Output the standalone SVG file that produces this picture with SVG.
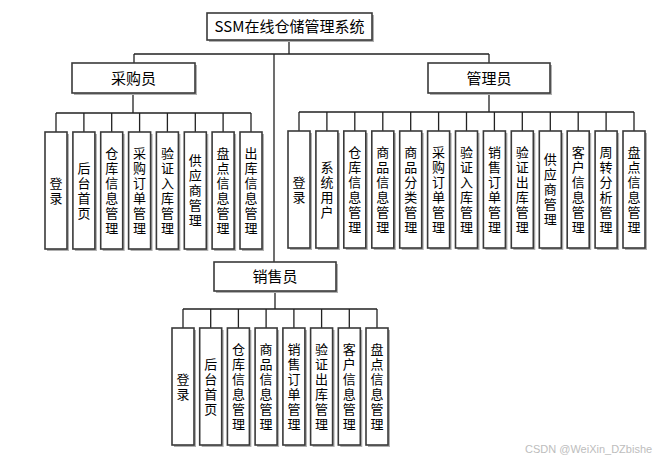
<svg xmlns="http://www.w3.org/2000/svg" width="669" height="463" viewBox="0 0 669 463">
<defs>
<style>
.box{fill:#fff;stroke:#3a3a3a;stroke-width:1.6}
.sh{fill:#b0b0b0}
.ln{stroke:#222;stroke-width:1.3;fill:none}
.t{font-family:"Noto Sans CJK SC","Microsoft YaHei",sans-serif;font-size:13px;fill:#000;text-anchor:middle;writing-mode:vertical-rl;letter-spacing:2px}
.r{font-family:"Noto Sans CJK SC","Microsoft YaHei",sans-serif;font-size:15px;fill:#000;text-anchor:middle}
.wm{font-family:"Liberation Sans",Arial,sans-serif;font-size:11px;fill:#bdbdbd}
</style>
</defs>
<rect width="669" height="463" fill="#fff"/>
<g id="connectors">
<path class="ln" d="M289 40V54M134 54H489M134 54V63M489 54V63M274 54V262"/>
<path class="ln" d="M133 93V113M56 113H251M56 113V132M83.9 113V132M111.7 113V132M139.6 113V132M167.4 113V132M195.3 113V132M223.1 113V132M251 113V132"/>
<path class="ln" d="M489 93V112M299 112H634M299 112V131M326.9 112V131M354.8 112V131M382.8 112V131M410.7 112V131M438.6 112V131M466.5 112V131M494.4 112V131M522.3 112V131M550.3 112V131M578.2 112V131M606.1 112V131M634 112V131"/>
<path class="ln" d="M275 291V309M183 309H377M183 309V328M210.7 309V328M238.4 309V328M266.1 309V328M293.9 309V328M321.6 309V328M349.3 309V328M377 309V328"/>
</g>
<g id="root"><rect class="sh" x="209" y="15" width="165" height="27"/><rect class="box" x="207" y="13" width="165" height="27"/><text class="r" x="289.5" y="32">SSM在线仓储管理系统</text></g>
<g id="buyer"><rect class="sh" x="74" y="65" width="123" height="30"/><rect class="box" x="72" y="63" width="123" height="30"/><text class="r" x="133.5" y="83.5">采购员</text></g>
<g id="admin"><rect class="sh" x="430" y="65" width="122" height="30"/><rect class="box" x="428" y="63" width="122" height="30"/><text class="r" x="489" y="83.5">管理员</text></g>
<g id="seller"><rect class="sh" x="216" y="264" width="122" height="29"/><rect class="box" x="214" y="262" width="122" height="29"/><text class="r" x="275" y="282">销售员</text></g>

<g id="b1"><rect class="sh" x="47" y="134" width="22" height="117"/><rect class="box" x="45" y="132" width="22" height="117"/><text class="t" x="56" y="191.5">登录</text></g>
<g id="b2"><rect class="sh" x="74.9" y="134" width="22" height="117"/><rect class="box" x="72.9" y="132" width="22" height="117"/><text class="t" x="83.9" y="191.5">后台首页</text></g>
<g id="b3"><rect class="sh" x="102.7" y="134" width="22" height="117"/><rect class="box" x="100.7" y="132" width="22" height="117"/><text class="t" x="111.7" y="191.5">仓库信息管理</text></g>
<g id="b4"><rect class="sh" x="130.6" y="134" width="22" height="117"/><rect class="box" x="128.6" y="132" width="22" height="117"/><text class="t" x="139.6" y="191.5">采购订单管理</text></g>
<g id="b5"><rect class="sh" x="158.4" y="134" width="22" height="117"/><rect class="box" x="156.4" y="132" width="22" height="117"/><text class="t" x="167.4" y="191.5">验证入库管理</text></g>
<g id="b6"><rect class="sh" x="186.3" y="134" width="22" height="117"/><rect class="box" x="184.3" y="132" width="22" height="117"/><text class="t" x="195.3" y="191.5">供应商管理</text></g>
<g id="b7"><rect class="sh" x="214.1" y="134" width="22" height="117"/><rect class="box" x="212.1" y="132" width="22" height="117"/><text class="t" x="223.1" y="191.5">盘点信息管理</text></g>
<g id="b8"><rect class="sh" x="242" y="134" width="22" height="117"/><rect class="box" x="240" y="132" width="22" height="117"/><text class="t" x="251" y="191.5">出库信息管理</text></g>

<g id="a1"><rect class="sh" x="290" y="133" width="22" height="117"/><rect class="box" x="288" y="131" width="22" height="117"/><text class="t" x="299" y="190.5">登录</text></g>
<g id="a2"><rect class="sh" x="317.9" y="133" width="22" height="117"/><rect class="box" x="315.9" y="131" width="22" height="117"/><text class="t" x="326.9" y="190.5">系统用户</text></g>
<g id="a3"><rect class="sh" x="345.8" y="133" width="22" height="117"/><rect class="box" x="343.8" y="131" width="22" height="117"/><text class="t" x="354.8" y="190.5">仓库信息管理</text></g>
<g id="a4"><rect class="sh" x="373.8" y="133" width="22" height="117"/><rect class="box" x="371.8" y="131" width="22" height="117"/><text class="t" x="382.8" y="190.5">商品信息管理</text></g>
<g id="a5"><rect class="sh" x="401.7" y="133" width="22" height="117"/><rect class="box" x="399.7" y="131" width="22" height="117"/><text class="t" x="410.7" y="190.5">商品分类管理</text></g>
<g id="a6"><rect class="sh" x="429.6" y="133" width="22" height="117"/><rect class="box" x="427.6" y="131" width="22" height="117"/><text class="t" x="438.6" y="190.5">采购订单管理</text></g>
<g id="a7"><rect class="sh" x="457.5" y="133" width="22" height="117"/><rect class="box" x="455.5" y="131" width="22" height="117"/><text class="t" x="466.5" y="190.5">验证入库管理</text></g>
<g id="a8"><rect class="sh" x="485.4" y="133" width="22" height="117"/><rect class="box" x="483.4" y="131" width="22" height="117"/><text class="t" x="494.4" y="190.5">销售订单管理</text></g>
<g id="a9"><rect class="sh" x="513.3" y="133" width="22" height="117"/><rect class="box" x="511.3" y="131" width="22" height="117"/><text class="t" x="522.3" y="190.5">验证出库管理</text></g>
<g id="a10"><rect class="sh" x="541.3" y="133" width="22" height="117"/><rect class="box" x="539.3" y="131" width="22" height="117"/><text class="t" x="550.3" y="190.5">供应商管理</text></g>
<g id="a11"><rect class="sh" x="569.2" y="133" width="22" height="117"/><rect class="box" x="567.2" y="131" width="22" height="117"/><text class="t" x="578.2" y="190.5">客户信息管理</text></g>
<g id="a12"><rect class="sh" x="597.1" y="133" width="22" height="117"/><rect class="box" x="595.1" y="131" width="22" height="117"/><text class="t" x="606.1" y="190.5">周转分析管理</text></g>
<g id="a13"><rect class="sh" x="625" y="133" width="22" height="117"/><rect class="box" x="623" y="131" width="22" height="117"/><text class="t" x="634" y="190.5">盘点信息管理</text></g>

<g id="s1"><rect class="sh" x="174" y="330" width="22" height="117"/><rect class="box" x="172" y="328" width="22" height="117"/><text class="t" x="183" y="387.5">登录</text></g>
<g id="s2"><rect class="sh" x="201.7" y="330" width="22" height="117"/><rect class="box" x="199.7" y="328" width="22" height="117"/><text class="t" x="210.7" y="387.5">后台首页</text></g>
<g id="s3"><rect class="sh" x="229.4" y="330" width="22" height="117"/><rect class="box" x="227.4" y="328" width="22" height="117"/><text class="t" x="238.4" y="387.5">仓库信息管理</text></g>
<g id="s4"><rect class="sh" x="257.1" y="330" width="22" height="117"/><rect class="box" x="255.1" y="328" width="22" height="117"/><text class="t" x="266.1" y="387.5">商品信息管理</text></g>
<g id="s5"><rect class="sh" x="284.9" y="330" width="22" height="117"/><rect class="box" x="282.9" y="328" width="22" height="117"/><text class="t" x="293.9" y="387.5">销售订单管理</text></g>
<g id="s6"><rect class="sh" x="312.6" y="330" width="22" height="117"/><rect class="box" x="310.6" y="328" width="22" height="117"/><text class="t" x="321.6" y="387.5">验证出库管理</text></g>
<g id="s7"><rect class="sh" x="340.3" y="330" width="22" height="117"/><rect class="box" x="338.3" y="328" width="22" height="117"/><text class="t" x="349.3" y="387.5">客户信息管理</text></g>
<g id="s8"><rect class="sh" x="368" y="330" width="22" height="117"/><rect class="box" x="366" y="328" width="22" height="117"/><text class="t" x="377" y="387.5">盘点信息管理</text></g>

<text class="wm" x="525" y="453">CSDN @WeiXin_DZbishe</text>
</svg>
